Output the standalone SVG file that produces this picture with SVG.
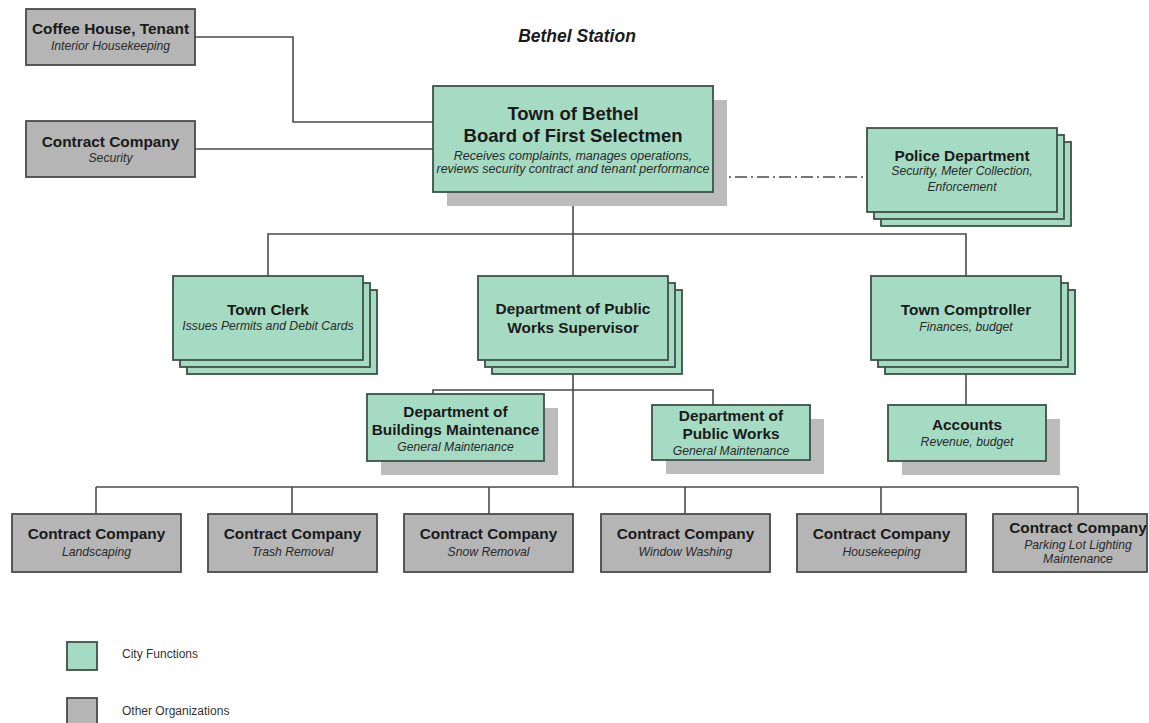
<svg xmlns="http://www.w3.org/2000/svg" width="1149" height="723" viewBox="0 0 1149 723">
<style>
.g{fill:#a6dbc3;stroke:#3d5248;stroke-width:1.8}
.o{fill:#b5b5b5;stroke:#4a4a4a;stroke-width:1.8}
.sh{fill:#bcbcbc}
.c{fill:none;stroke:#4a4a4a;stroke-width:1.6}
.t{font-family:"Liberation Sans",Arial,sans-serif;font-weight:bold;font-size:15.4px;fill:#1a1a1a;text-anchor:middle}
.i{font-family:"Liberation Sans",Arial,sans-serif;font-style:italic;font-size:12.2px;fill:#2a2a2a;text-anchor:middle}
.big{font-size:18.5px}
.ib{font-size:12.5px}
.l{font-family:"Liberation Sans",Arial,sans-serif;font-size:12px;fill:#333}
</style>
<rect width="1149" height="723" fill="#fff"/>
<text x="577" y="42" font-family="Liberation Sans,Arial,sans-serif" font-weight="bold" font-style="italic" font-size="17.5" fill="#1a1a1a" text-anchor="middle">Bethel Station</text>
<g id="connectors">
<polyline class="c" points="195,37 293,37 293,122 433,122"/>
<line class="c" x1="195" y1="149" x2="433" y2="149"/>
<line class="c" x1="713" y1="177" x2="867" y2="177" stroke-dasharray="12 4 2 4"/>
<line class="c" x1="573" y1="192" x2="573" y2="234"/>
<polyline class="c" points="268,276 268,234 966,234 966,276"/>
<line class="c" x1="573" y1="234" x2="573" y2="276"/>
<line class="c" x1="573" y1="360" x2="573" y2="487"/>
<polyline class="c" points="433,394 433,390 713,390 713,405"/>
<line class="c" x1="966" y1="360" x2="966" y2="405"/>
<line class="c" x1="96" y1="487" x2="1078" y2="487"/>
<line class="c" x1="96" y1="487" x2="96" y2="514"/>
<line class="c" x1="292" y1="487" x2="292" y2="514"/>
<line class="c" x1="489" y1="487" x2="489" y2="514"/>
<line class="c" x1="685" y1="487" x2="685" y2="514"/>
<line class="c" x1="881" y1="487" x2="881" y2="514"/>
<line class="c" x1="1078" y1="487" x2="1078" y2="514"/>
</g>
<g id="coffee">
<rect class="o" x="26" y="9" width="169" height="56"/>
<text class="t" x="110.5" y="34">Coffee House, Tenant</text>
<text class="i" x="110.5" y="50">Interior Housekeeping</text>
</g>
<g id="security">
<rect class="o" x="26" y="121" width="169" height="56"/>
<text class="t" x="110.5" y="147">Contract Company</text>
<text class="i" x="110.5" y="162">Security</text>
</g>
<g id="board">
<rect class="sh" x="447" y="100" width="280" height="106"/>
<rect class="g" x="433" y="86" width="280" height="106"/>
<text class="t big" x="573" y="120">Town of Bethel</text>
<text class="t big" x="573" y="142">Board of First Selectmen</text>
<text class="i ib" x="573" y="159.5">Receives complaints, manages operations,</text>
<text class="i ib" x="573" y="172.5">reviews security contract and tenant performance</text>
</g>
<g id="police">
<rect class="g" x="881" y="142" width="190" height="84"/>
<rect class="g" x="874" y="135" width="190" height="84"/>
<rect class="g" x="867" y="128" width="190" height="84"/>
<text class="t" x="962" y="160.5">Police Department</text>
<text class="i" x="962" y="175">Security, Meter Collection,</text>
<text class="i" x="962" y="191">Enforcement</text>
</g>
<g id="clerk">
<rect class="g" x="187" y="290" width="190" height="84"/>
<rect class="g" x="180" y="283" width="190" height="84"/>
<rect class="g" x="173" y="276" width="190" height="84"/>
<text class="t" x="268" y="315">Town Clerk</text>
<text class="i" x="268" y="329.5">Issues Permits and Debit Cards</text>
</g>
<g id="dpw-supervisor">
<rect class="g" x="492" y="290" width="190" height="84"/>
<rect class="g" x="485" y="283" width="190" height="84"/>
<rect class="g" x="478" y="276" width="190" height="84"/>
<text class="t" x="573" y="314">Department of Public</text>
<text class="t" x="573" y="333">Works Supervisor</text>
</g>
<g id="comptroller">
<rect class="g" x="885" y="290" width="190" height="84"/>
<rect class="g" x="878" y="283" width="190" height="84"/>
<rect class="g" x="871" y="276" width="190" height="84"/>
<text class="t" x="966" y="315">Town Comptroller</text>
<text class="i" x="966" y="331">Finances, budget</text>
</g>
<g id="buildings">
<rect class="sh" x="381" y="408" width="177" height="67"/>
<rect class="g" x="367" y="394" width="177" height="67"/>
<text class="t" x="455.5" y="417">Department of</text>
<text class="t" x="455.5" y="435">Buildings Maintenance</text>
<text class="i" x="455.5" y="451">General Maintenance</text>
</g>
<g id="public-works">
<rect class="sh" x="666" y="419" width="158" height="55"/>
<rect class="g" x="652" y="405" width="158" height="55"/>
<text class="t" x="731" y="421">Department of</text>
<text class="t" x="731" y="439">Public Works</text>
<text class="i" x="731" y="455">General Maintenance</text>
</g>
<g id="accounts">
<rect class="sh" x="902" y="419" width="158" height="56"/>
<rect class="g" x="888" y="405" width="158" height="56"/>
<text class="t" x="967" y="430">Accounts</text>
<text class="i" x="967" y="446">Revenue, budget</text>
</g>
<g id="landscaping">
<rect class="o" x="12" y="514" width="169" height="58"/>
<text class="t" x="96.5" y="539">Contract Company</text>
<text class="i" x="96.5" y="556">Landscaping</text>
</g>
<g id="trash">
<rect class="o" x="208" y="514" width="169" height="58"/>
<text class="t" x="292.5" y="539">Contract Company</text>
<text class="i" x="292.5" y="556">Trash Removal</text>
</g>
<g id="snow">
<rect class="o" x="404" y="514" width="169" height="58"/>
<text class="t" x="488.5" y="539">Contract Company</text>
<text class="i" x="488.5" y="556">Snow Removal</text>
</g>
<g id="window">
<rect class="o" x="601" y="514" width="169" height="58"/>
<text class="t" x="685.5" y="539">Contract Company</text>
<text class="i" x="685.5" y="556">Window Washing</text>
</g>
<g id="housekeeping">
<rect class="o" x="797" y="514" width="169" height="58"/>
<text class="t" x="881.5" y="539">Contract Company</text>
<text class="i" x="881.5" y="556">Housekeeping</text>
</g>
<g id="parking">
<rect class="o" x="993" y="514" width="154" height="58"/>
<text class="t" x="1078" y="533">Contract Company</text>
<text class="i" x="1078" y="549">Parking Lot Lighting</text>
<text class="i" x="1078" y="563">Maintenance</text>
</g>
<g id="legend">
<rect class="g" x="67" y="642" width="30" height="28"/>
<text class="l" x="122" y="658">City Functions</text>
<rect class="o" x="67" y="698" width="30" height="28"/>
<text class="l" x="122" y="715">Other Organizations</text>
</g>
</svg>
